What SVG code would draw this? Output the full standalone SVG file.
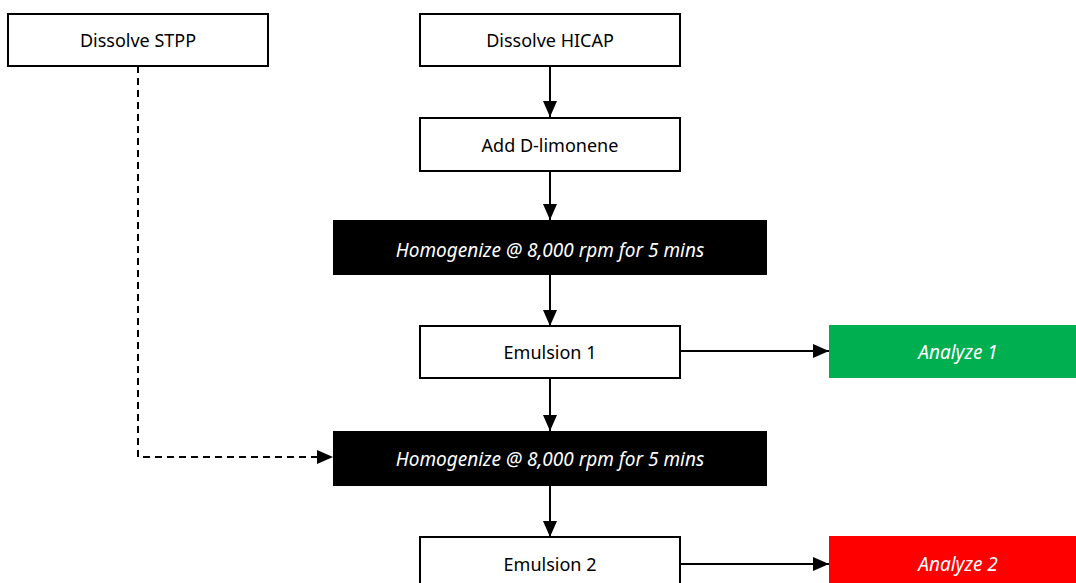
<svg xmlns="http://www.w3.org/2000/svg" width="1076" height="583" viewBox="0 0 1076 583">
  <style>
    .box { fill: #ffffff; stroke: #000000; stroke-width: 2; }
    .dark { fill: #000000; }
    .green { fill: #00b050; }
    .red { fill: #ff0000; }
    .label { font-family: "Noto Sans", "DejaVu Sans", sans-serif; font-size: 18px; text-anchor: middle; dominant-baseline: central; fill: #000000; }
    .inv { fill: #ffffff; font-style: italic; font-size: 19px; }
    .link { fill: none; stroke: #000000; stroke-width: 2; }
    .dashed { stroke-dasharray: 7 5; }
  </style>
  <defs>
    <marker id="arrow" viewBox="0 0 16 14" refX="16" refY="7" markerWidth="16" markerHeight="14" markerUnits="userSpaceOnUse" orient="auto">
      <path d="M0,0 L16,7 L0,14 Z" fill="#000000"/>
    </marker>
  </defs>

  <rect width="1076" height="583" fill="#ffffff"/>

  <g id="connectors">
    <line class="link" x1="550" y1="66" x2="550" y2="117" marker-end="url(#arrow)"/>
    <line class="link" x1="550" y1="171" x2="550" y2="220" marker-end="url(#arrow)"/>
    <line class="link" x1="550" y1="275" x2="550" y2="326" marker-end="url(#arrow)"/>
    <line class="link" x1="550" y1="378" x2="550" y2="431" marker-end="url(#arrow)"/>
    <line class="link" x1="550" y1="486" x2="550" y2="537" marker-end="url(#arrow)"/>
    <line class="link" x1="680" y1="351" x2="829" y2="351" marker-end="url(#arrow)"/>
    <line class="link" x1="680" y1="564" x2="829" y2="564" marker-end="url(#arrow)"/>
    <polyline class="link dashed" points="138,66 138,457 333,457" marker-end="url(#arrow)"/>
  </g>

  <g id="dissolve-stpp">
    <rect class="box" x="8" y="14" width="260" height="52"/>
    <text class="label" x="138" y="40">Dissolve STPP</text>
  </g>

  <g id="dissolve-hicap">
    <rect class="box" x="420" y="14" width="260" height="52"/>
    <text class="label" x="550" y="40">Dissolve HICAP</text>
  </g>

  <g id="add-limonene">
    <rect class="box" x="420" y="118" width="260" height="53"/>
    <text class="label" x="550" y="145">Add D-limonene</text>
  </g>

  <g id="homogenize-1">
    <rect class="dark" x="333" y="220" width="434" height="55"/>
    <text class="label inv" x="550" y="250">Homogenize @ 8,000 rpm for 5 mins</text>
  </g>

  <g id="emulsion-1">
    <rect class="box" x="420" y="326" width="260" height="52"/>
    <text class="label" x="550" y="352">Emulsion 1</text>
  </g>

  <g id="analyze-1">
    <rect class="green" x="829" y="325" width="247" height="53"/>
    <text class="label inv" x="958" y="352">Analyze 1</text>
  </g>

  <g id="homogenize-2">
    <rect class="dark" x="333" y="431" width="434" height="55"/>
    <text class="label inv" x="550" y="459">Homogenize @ 8,000 rpm for 5 mins</text>
  </g>

  <g id="emulsion-2">
    <rect class="box" x="420" y="537" width="260" height="53"/>
    <text class="label" x="550" y="564">Emulsion 2</text>
  </g>

  <g id="analyze-2">
    <rect class="red" x="829" y="536" width="247" height="54"/>
    <text class="label inv" x="958" y="564">Analyze 2</text>
  </g>
</svg>
